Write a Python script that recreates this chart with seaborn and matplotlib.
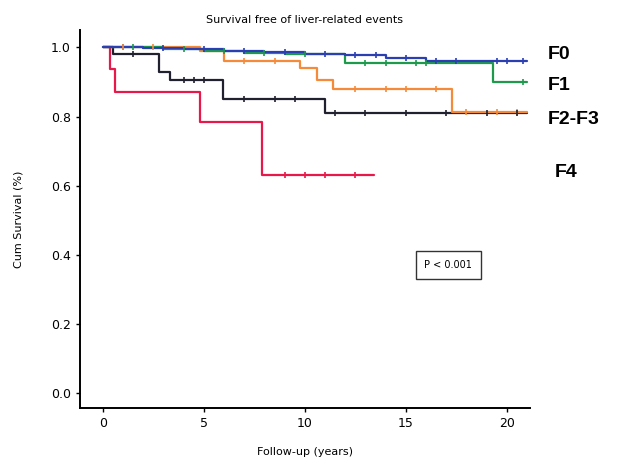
import numpy as np
import pandas as pd
import seaborn as sns
import matplotlib.pyplot as plt

# Kaplan-Meier step curves (time in years, cumulative survival)
f0_t = [0, 2, 4, 6, 8, 10, 12, 14, 16, 21]
f0_s = [1.0, 0.997, 0.994, 0.99, 0.986, 0.982, 0.977, 0.97, 0.962, 0.962]
f1_t = [0, 3, 5, 7, 9, 12, 19.3, 21]
f1_s = [1.0, 0.995, 0.99, 0.985, 0.98, 0.955, 0.9, 0.9]
orange_t = [0, 4.8, 6.0, 9.75, 10.6, 11.4, 17.3, 21]
orange_s = [1.0, 0.99, 0.962, 0.94, 0.907, 0.88, 0.812, 0.812]
black_t = [0, 0.5, 2.8, 3.3, 5.95, 11.0, 21]
black_s = [1.0, 0.98, 0.93, 0.907, 0.85, 0.81, 0.81]
f4_t = [0, 0.35, 0.6, 4.8, 7.9, 13.4]
f4_s = [1.0, 0.936, 0.87, 0.785, 0.63, 0.63]

# censored observations (tick marks)
f0_c = [1, 3, 5, 7, 9, 11, 12.5, 13.5, 15, 16.5, 17.5, 19.5, 20, 20.8]
f1_c = [1.5, 4, 6, 8, 10, 13, 14, 15.5, 16, 20.8]
orange_c = [1, 2.5, 7, 8.5, 12.5, 14, 15, 16.5, 18, 19.5, 20.5]
black_c = [1.5, 4, 4.5, 5, 7, 8.5, 9.5, 11.5, 13, 15, 17, 19, 20.5]
f4_c = [9, 10, 11, 12.5]

curves = {
    "F0": (f0_t, f0_s, f0_c, "#2b3fb3"),
    "F1": (f1_t, f1_s, f1_c, "#1e9a4c"),
    "orange": (orange_t, orange_s, orange_c, "#f58b3a"),
    "black": (black_t, black_s, black_c, "#20202e"),
    "F4": (f4_t, f4_s, f4_c, "#e8184b"),
}

rows = []
for name, (t, s, c, col) in curves.items():
    for ti, si in zip(t, s):
        rows.append({"group": name, "time": ti, "surv": si})
df = pd.DataFrame(rows)

sns.set_style("ticks", {"axes.edgecolor": "black", "text.color": "black",
                        "xtick.color": "black", "ytick.color": "black",
                        "axes.labelcolor": "black"})
plt.rcParams["font.family"] = ["DejaVu Sans"]

fig = plt.figure(figsize=(6.19, 4.7), dpi=100)
ax = fig.add_axes([0.129, 0.132, 0.727, 0.804])

palette = {k: v[3] for k, v in curves.items()}
sns.lineplot(data=df, x="time", y="surv", hue="group", palette=palette,
             drawstyle="steps-post", linewidth=1.6, legend=False, ax=ax,
             hue_order=["F4", "black", "orange", "F1", "F0"])

for name, (t, s, c, col) in curves.items():
    idx = np.searchsorted(t, c, side="right") - 1
    ys = np.array(s)[idx]
    ax.plot(c, ys, linestyle="none", marker="|", markersize=5, color=col,
            markeredgewidth=1.2)

ax.set_xlim(-1.14, 21.14)
ax.set_ylim(-0.043, 1.05)
ax.set_xticks([0, 5, 10, 15, 20])
ax.set_yticks([0.0, 0.2, 0.4, 0.6, 0.8, 1.0])
ax.set_yticklabels(["0.0", "0.2", "0.4", "0.6", "0.8", "1.0"])
ax.tick_params(labelsize=9, length=3, width=1)
sns.despine(ax=ax)
for sp in ["left", "bottom"]:
    ax.spines[sp].set_linewidth(1.4)

ax.set_xlabel("Follow-up (years)", fontsize=8, labelpad=12)
ax.set_ylabel("Cum Survival (%)", fontsize=8, labelpad=20)
ax.set_title("Survival free of liver-related events", fontsize=8, pad=5)

ax.text(17.1, 0.37, "P < 0.001", fontsize=7, ha="center", va="center",
        bbox=dict(boxstyle="square,pad=0.9", fc="white", ec="#333333", lw=1))

lab_font = dict(fontsize=14, fontweight="bold", family=["Liberation Sans", "DejaVu Sans"])
fig.text(0.885, 0.883, "F0", va="center", **lab_font)
fig.text(0.885, 0.819, "F1", va="center", **lab_font)
fig.text(0.885, 0.745, "F2-F3", va="center", **lab_font)
fig.text(0.897, 0.634, "F4", va="center", **lab_font)

fig.savefig("out.png", dpi=100)
